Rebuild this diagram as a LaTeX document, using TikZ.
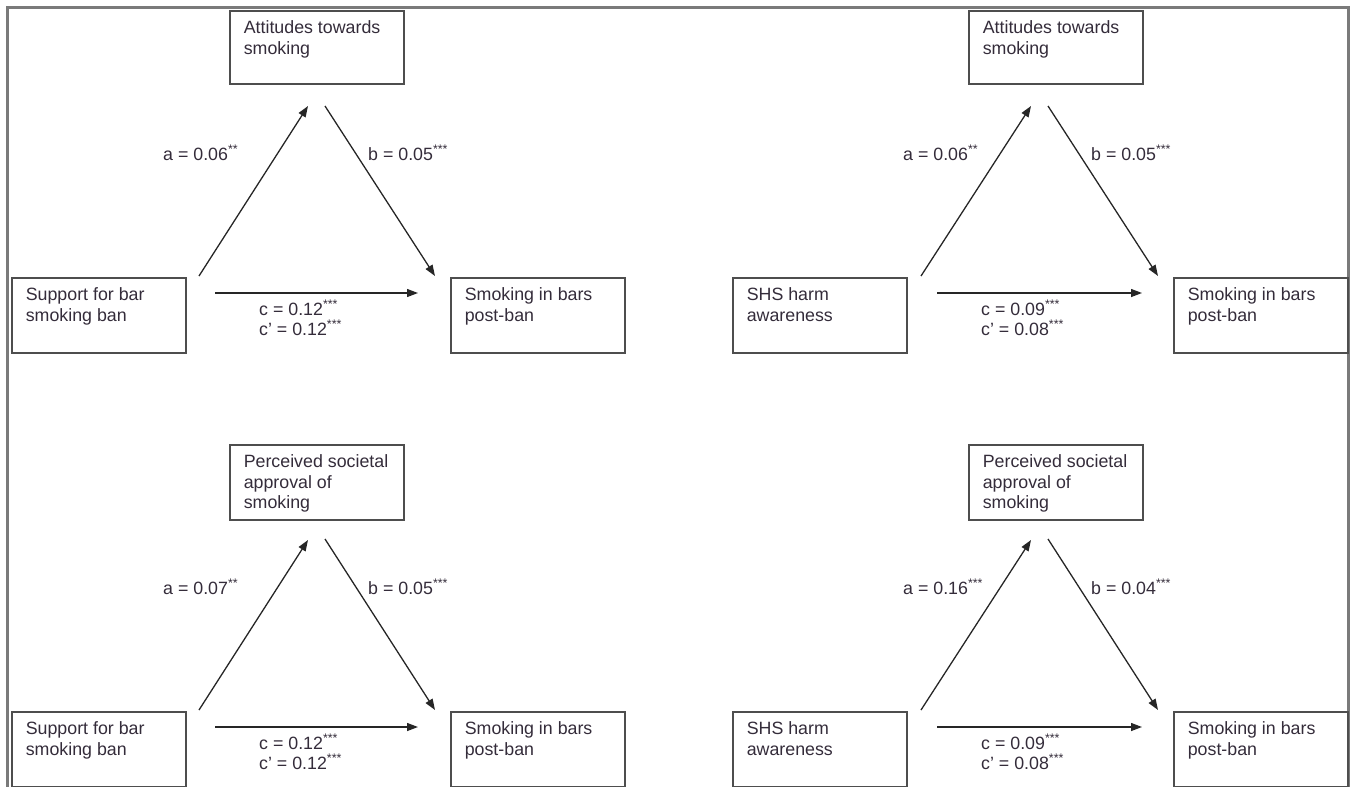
\documentclass[tikz,border=0pt]{standalone}
\usepackage{fontspec}
\setmainfont{Liberation Sans}
\usetikzlibrary{arrows.meta}
\definecolor{txt}{RGB}{52,44,58}
\definecolor{framegray}{RGB}{122,122,122}
\definecolor{boxline}{RGB}{78,78,78}
\newcommand{\boxtext}[2]{\parbox[t][#1][t]{146pt}{#2}}
\begin{document}
\begin{tikzpicture}[x=1pt,y=-1pt,
  font=\fontsize{17.8}{20.5}\selectfont,
  box/.style={draw=boxline, line width=1.6pt, anchor=north west, inner xsep=14pt, inner ysep=10pt, text=txt, align=left},
  arr/.style={line width=1.3pt, draw=black!85, -{Triangle[length=11pt,width=8pt]}},
  lab/.style={text=txt, inner sep=0pt, anchor=base west}]
\useasboundingbox (0,0) rectangle (1352,787);
\draw[framegray, line width=3pt] (7.5,790) -- (7.5,7.5) -- (1348,7.5) -- (1348,790);

% ---------- top left ----------
\node[box] (m1) at (229,10) {\boxtext{53pt}{Attitudes towards\\smoking}};
\node[box] (x1) at (11,277) {\boxtext{55pt}{Support for bar\\smoking ban}};
\node[box] (y1) at (450,277) {\boxtext{55pt}{Smoking in bars\\post-ban}};
\coordinate (a1s) at (199,276); \coordinate (a1e) at (308,106);
\coordinate (b1s) at (325,106); \coordinate (b1e) at (435,276);
\coordinate (c1s) at (215,293); \coordinate (c1e) at (418,293);
\draw[arr] (a1s) -- (a1e);
\draw[arr] (b1s) -- (b1e);
\draw[arr] (c1s) -- (c1e);
\node[lab] (la1) at (163,160) {a = 0.06\textsuperscript{**}};
\node[lab] (lb1) at (368,160) {b = 0.05\textsuperscript{***}};
\node[lab] (lc1) at (259,315) {c = 0.12\textsuperscript{***}};
\node[lab] (ld1) at (259,335) {c’ = 0.12\textsuperscript{***}};

% ---------- top right ----------
\node[box] (m2) at (968,10) {\boxtext{53pt}{Attitudes towards\\smoking}};
\node[box] (x2) at (732,277) {\boxtext{55pt}{SHS harm\\awareness}};
\node[box] (y2) at (1173,277) {\boxtext{55pt}{Smoking in bars\\post-ban}};
\coordinate (a2s) at (921,276); \coordinate (a2e) at (1031,106);
\coordinate (b2s) at (1048,106); \coordinate (b2e) at (1158,276);
\coordinate (c2s) at (937,293); \coordinate (c2e) at (1142,293);
\draw[arr] (a2s) -- (a2e);
\draw[arr] (b2s) -- (b2e);
\draw[arr] (c2s) -- (c2e);
\node[lab] (la2) at (903,160) {a = 0.06\textsuperscript{**}};
\node[lab] (lb2) at (1091,160) {b = 0.05\textsuperscript{***}};
\node[lab] (lc2) at (981,315) {c = 0.09\textsuperscript{***}};
\node[lab] (ld2) at (981,335) {c’ = 0.08\textsuperscript{***}};

% ---------- bottom left ----------
\node[box] (m3) at (229,444) {\boxtext{55pt}{Perceived societal\\approval of\\smoking}};
\node[box] (x3) at (11,711) {\boxtext{55pt}{Support for bar\\smoking ban}};
\node[box] (y3) at (450,711) {\boxtext{55pt}{Smoking in bars\\post-ban}};
\coordinate (a3s) at (199,710); \coordinate (a3e) at (308,540);
\coordinate (b3s) at (325,539); \coordinate (b3e) at (435,710);
\coordinate (c3s) at (215,727); \coordinate (c3e) at (418,727);
\draw[arr] (a3s) -- (a3e);
\draw[arr] (b3s) -- (b3e);
\draw[arr] (c3s) -- (c3e);
\node[lab] (la3) at (163,594) {a = 0.07\textsuperscript{**}};
\node[lab] (lb3) at (368,594) {b = 0.05\textsuperscript{***}};
\node[lab] (lc3) at (259,749) {c = 0.12\textsuperscript{***}};
\node[lab] (ld3) at (259,769) {c’ = 0.12\textsuperscript{***}};

% ---------- bottom right ----------
\node[box] (m4) at (968,444) {\boxtext{55pt}{Perceived societal\\approval of\\smoking}};
\node[box] (x4) at (732,711) {\boxtext{55pt}{SHS harm\\awareness}};
\node[box] (y4) at (1173,711) {\boxtext{55pt}{Smoking in bars\\post-ban}};
\coordinate (a4s) at (921,710); \coordinate (a4e) at (1031,540);
\coordinate (b4s) at (1048,539); \coordinate (b4e) at (1158,710);
\coordinate (c4s) at (937,727); \coordinate (c4e) at (1142,727);
\draw[arr] (a4s) -- (a4e);
\draw[arr] (b4s) -- (b4e);
\draw[arr] (c4s) -- (c4e);
\node[lab] (la4) at (903,594) {a = 0.16\textsuperscript{***}};
\node[lab] (lb4) at (1091,594) {b = 0.04\textsuperscript{***}};
\node[lab] (lc4) at (981,749) {c = 0.09\textsuperscript{***}};
\node[lab] (ld4) at (981,769) {c’ = 0.08\textsuperscript{***}};
\end{tikzpicture}
\end{document}
